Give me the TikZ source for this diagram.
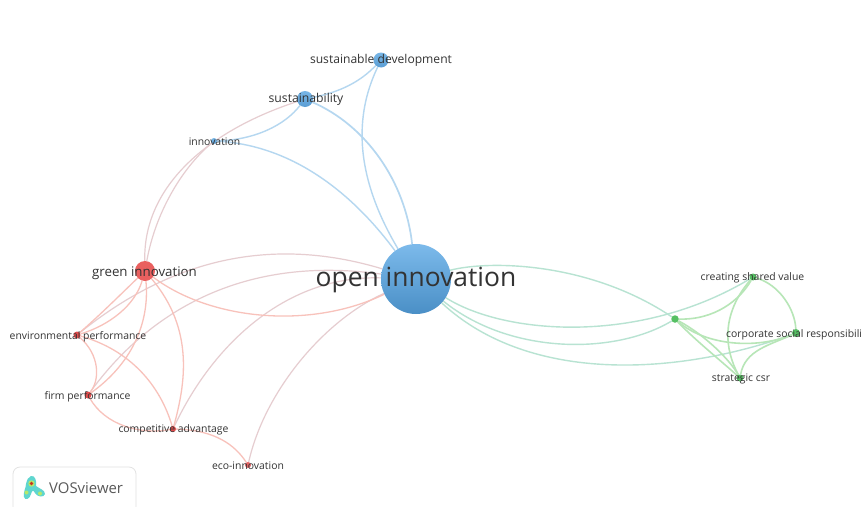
\documentclass[tikz,border=0pt]{standalone}
\usepackage{fontspec}
\setmainfont{Open Sans}
\usetikzlibrary{backgrounds}
\definecolor{bedge}{HTML}{B5D7F0}
\definecolor{pedge}{HTML}{E6CDD0}
\definecolor{redge}{HTML}{F8C2BB}
\definecolor{gedge}{HTML}{B7E6B7}
\definecolor{tedge}{HTML}{B8E3D2}
\definecolor{txt}{HTML}{333333}
\definecolor{bigtop}{HTML}{7CBAEB}
\definecolor{bigbot}{HTML}{4A8FC6}
\definecolor{bluetop}{HTML}{78B6E6}
\definecolor{bluebot}{HTML}{5A9DD4}
\definecolor{redmain}{HTML}{E9605F}
\definecolor{reddark}{HTML}{E04C4C}
\definecolor{redsoft}{HTML}{E66464}
\definecolor{greenmain}{HTML}{55C063}
\definecolor{logoline}{HTML}{E2E2E2}
\definecolor{logotext}{HTML}{595959}
\definecolor{logocyan}{HTML}{5FD6CF}
\definecolor{logolime}{HTML}{B5E86A}
\definecolor{logored}{HTML}{C8341E}
\tikzset{
  x=1pt,y=-1pt,
  item/.style={circle,inner sep=0pt,minimum size=#1},
  blueitem/.style={item=#1,top color=bluetop,bottom color=bluebot,draw=none},
  reditem/.style={item=#1,fill=redmain},
  greenitem/.style={item=#1,fill=greenmain},
  lab/.style={text=txt,inner sep=0pt,font=\fontsize{#1}{#1}\selectfont},
  blink/.style={draw=bedge,line width=1.4pt},
  plink/.style={draw=pedge,line width=1.2pt},
  rlink/.style={draw=redge,line width=1.3pt},
  glink/.style={draw=gedge,line width=1.6pt},
  tlink/.style={draw=tedge,line width=1.4pt},
}
\begin{document}
\begin{tikzpicture}
\useasboundingbox (0,0) rectangle (861,506);
% items
\node[item=70pt,top color=bigtop,bottom color=bigbot] (oi) at (416,279) {};
\node[blueitem=15pt] (sd) at (381,60) {};
\node[blueitem=16pt] (su) at (305,99) {};
\node[blueitem=6pt] (in) at (214,141) {};
\node[reditem=20pt] (gi) at (145,271) {};
\node[item=7pt,fill=reddark] (ep) at (77,335) {};
\node[item=7pt,fill=reddark] (fp) at (88,395) {};
\node[item=6pt,fill=reddark] (ca) at (173,429) {};
\node[item=6pt,fill=redsoft] (ec) at (248,465) {};
\node[greenitem=7.5pt] (hub) at (675,319) {};
\node[greenitem=7pt] (csv) at (753,277) {};
\node[greenitem=8pt] (csr) at (796,333) {};
\node[greenitem=7pt] (sc) at (740,378) {};
% links
\begin{scope}[on background layer]
\fill[white] (0,0) rectangle (861,506);
\draw[blink] (sd) .. controls (362,100) and (345,160) .. (oi);
\draw[blink,line width=1.7pt] (su) .. controls (365,125) and (405,180) .. (oi);
\draw[blink] (sd) .. controls (360,82) and (340,92) .. (su);
\draw[blink] (su) .. controls (285,125) and (255,140) .. (in);
\draw[blink] (in) .. controls (290,145) and (350,190) .. (oi);
\draw[plink] (su) .. controls (210,130) and (143,185) .. (gi);
\draw[plink] (in) .. controls (180,170) and (155,215) .. (gi);
\draw[plink] (ep) .. controls (170,260) and (270,235) .. (oi);
\draw[plink] (fp) .. controls (150,310) and (245,255) .. (oi);
\draw[plink] (ca) .. controls (215,340) and (290,275) .. (oi);
\draw[plink] (ec) .. controls (265,390) and (325,320) .. (oi);
\draw[rlink] (gi) .. controls (210,320) and (310,330) .. (oi);
\draw[rlink] (gi) .. controls (120,295) and (100,315) .. (ep);
\draw[rlink] (gi) .. controls (135,305) and (110,325) .. (ep);
\draw[rlink] (gi) .. controls (150,325) and (130,365) .. (fp);
\draw[rlink] (gi) .. controls (195,330) and (185,385) .. (ca);
\draw[rlink] (ep) .. controls (100,355) and (100,380) .. (fp);
\draw[rlink] (ep) .. controls (130,350) and (160,385) .. (ca);
\draw[rlink] (fp) .. controls (105,425) and (140,435) .. (ca);
\draw[rlink] (ca) .. controls (215,430) and (235,445) .. (ec);
\draw[tlink] (oi) .. controls (490,260) and (590,262) .. (hub);
\draw[tlink] (oi) .. controls (505,335) and (640,345) .. (csv);
\draw[tlink] (oi) .. controls (510,355) and (615,355) .. (hub);
\draw[tlink] (oi) .. controls (530,385) and (680,375) .. (csr);
\draw[glink] (hub) .. controls (715,320) and (740,300) .. (csv);
\draw[glink] (hub) .. controls (705,345) and (755,350) .. (csr);
\draw[glink] (hub) .. controls (705,335) and (730,360) .. (sc);
\draw[glink] (hub) .. controls (695,340) and (720,360) .. (sc);
\draw[glink] (csv) .. controls (780,285) and (795,310) .. (csr);
\draw[glink] (csv) .. controls (720,315) and (725,350) .. (sc);
\draw[glink] (csr) .. controls (770,345) and (745,350) .. (sc);
\end{scope}
% labels
\node[lab=26.4] (loi) at (416,280) {open innovation};
\node[lab=12.1] (lsd) at (381,60.5) {sustainable development};
\node[lab=12.2] (lsu) at (306,99) {sustainability};
\node[lab=10.4] (lin) at (214.5,142) {innovation};
\node[lab=13.3] (lgi) at (144.5,273) {green innovation};
\node[lab=10.4] (lep) at (78,336.5) {environmental performance};
\node[lab=10.4] (lfp) at (87.5,396.5) {firm performance};
\node[lab=10.4] (lca) at (173.5,430) {competitive advantage};
\node[lab=10.4] (lec) at (248,466) {eco-innovation};
\node[lab=10.4] (lcsv) at (752.5,278) {creating shared value};
\node[lab=10.4,anchor=west] (lcsr) at (726,334.5) {corporate social responsibili};
\node[lab=10.4] (lsc) at (741,379) {strategic csr};
% logo
\draw[draw=logoline,line width=0.8pt,rounded corners=7pt,fill=white] (13,508) -- (13,467) -- (136,467) -- (136,508);
\fill[logocyan] (31,476) .. controls (35,475) and (37,481) .. (36,486) .. controls (40,489) and (45,490) .. (45,494) .. controls (44,498) and (37,497) .. (35,493) .. controls (33,489) and (32,491) .. (31,494) .. controls (30,499) and (25,501) .. (24,497) .. controls (23,492) and (26,488) .. (26,484) .. controls (27,480) and (28,477) .. (31,476) -- cycle;
\fill[logolime] (26.5,492.5) circle (2);
\fill[logolime] (40,493.5) circle (2);
\fill[logolime] (31.5,483.5) circle (3.2);
\fill[logored] (31.5,483.5) circle (1.8);
\node[text=logotext,inner sep=0pt,font=\fontsize{14.9}{14.9}\selectfont,anchor=west] (vos) at (49,488) {VOSviewer};
\end{tikzpicture}
\end{document}
